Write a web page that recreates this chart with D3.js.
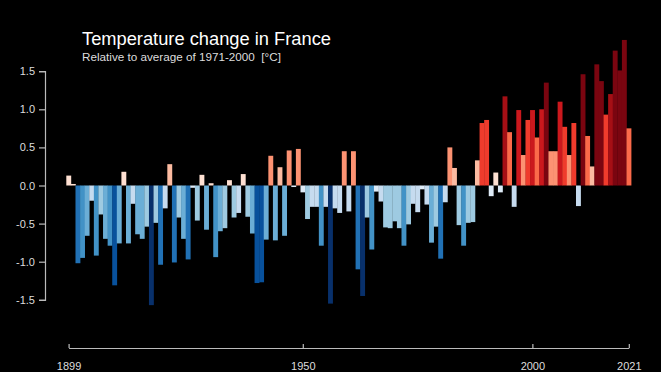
<!DOCTYPE html>
<html><head><meta charset="utf-8">
<script src="https://cdn.jsdelivr.net/npm/d3@7"></script>
<style>
html,body{margin:0;padding:0;background:#000;}
svg{display:block;font-family:"Liberation Sans",Arial,Helvetica,sans-serif;}
</style></head>
<body>
<svg id="chart" width="661" height="372"></svg>
<script>
const title = "Temperature change in France";
const subtitle = "Relative to average of 1971-2000  [°C]";
const firstYear = 1899;
const anomalies = [
 0.13, 0.02,-1.02,-0.95,-0.66,-0.20,-0.92,-0.38,-0.70,-0.79, // 1899-1908
-1.31,-0.76, 0.18,-0.76,-0.24,-0.64,-0.70,-0.54,-1.57,-0.49, // 1909-1918
-1.04,-0.30, 0.28,-1.01,-0.42,-0.70,-0.97,-0.03,-0.46, 0.14, // 1919-1928
-0.58, 0.03,-0.94,-0.60,-0.56, 0.07,-0.42,-0.36, 0.15,-0.41, // 1929-1938
-0.63,-1.28,-1.27,-0.71, 0.39,-0.72, 0.24,-0.66, 0.46,-0.02, // 1939-1948
 0.48,-0.09,-0.44,-0.28,-0.28,-0.79,-0.28,-1.55,-0.30,-0.36, // 1949-1958
 0.45,-0.34, 0.45,-1.10,-1.45,-0.42,-0.84,-0.08,-0.21,-0.55, // 1959-1968
-0.56,-0.47,-0.56,-0.79,-0.51,-0.24,-0.35,-0.05,-0.25,-0.75, // 1969-1978
-0.54,-0.96,-0.22, 0.50, 0.23,-0.52,-0.79,-0.49,-0.48, 0.33, // 1979-1988
 0.82, 0.86,-0.14, 0.17,-0.09, 1.17, 0.70,-0.28, 0.99, 0.40, // 1989-1998
 0.86, 0.99, 0.63, 1.00, 1.35, 0.45, 0.45, 1.10, 0.77, 0.40, // 1999-2008
 0.82,-0.27, 1.46, 0.65, 0.25, 1.59, 1.37, 0.93, 1.20, 1.77, // 2009-2018
 1.51, 1.91, 0.75                                             // 2019-2021
];
const years = anomalies.map((_, i) => firstYear + i);
const xTickValues = [1899, 1950, 2000, 2021];
const yTickValues = [1.5, 1.0, 0.5, 0.0, -0.5, -1.0, -1.5];
const yTickLabels = ["1.5", "1.0", "0.5", "0.0", "-0.5", "-1.0", "-1.5"];

const stripeColors = ["#08306b","#08519c","#2171b5","#4292c6","#6baed6","#9ecae1","#c6dbef","#deebf7",
                      "#fee0d2","#fcbba1","#fc9272","#fb6a4a","#ef3b2c","#cb181d","#a50f15","#7a0510"];

const svg = d3.select("#chart");
svg.append("rect").attr("width", 661).attr("height", 372).attr("fill", "#000");

const x = d3.scaleLinear().domain([1899, 2021]).range([68.6, 628.8]);
const y = d3.scaleLinear().domain([-1.5, 1.5]).range([299.8, 71.2]);
const color = d3.scaleQuantize().domain([-1.52, 1.52]).range(stripeColors);
const bw = x(1) - x(0);

svg.append("g").selectAll("rect").data(years).join("rect")
  .attr("x", d => x(d) - bw / 2)
  .attr("width", bw + 0.3)
  .attr("y", (d, i) => y(Math.max(0, anomalies[i])))
  .attr("height", (d, i) => Math.abs(y(anomalies[i]) - y(0)))
  .attr("fill", (d, i) => color(anomalies[i]));

// Y axis
const yAxis = svg.append("g").attr("transform", "translate(45,0)")
  .call(d3.axisLeft(y).tickValues(yTickValues).tickSize(6).tickPadding(4)
    .tickFormat((d, i) => yTickLabels[i]));
yAxis.select(".domain").attr("stroke", "#bbb").attr("stroke-width", 1.2);
yAxis.selectAll(".tick line").attr("stroke", "#bbb").attr("stroke-width", 1.2);
yAxis.selectAll(".tick text").attr("fill", "#ddd").style("font-size", "11px")
  .style("font-family", '"Liberation Sans",Arial,sans-serif');

// X axis
const xAxis = svg.append("g").attr("transform", "translate(0,348)")
  .call(d3.axisBottom(x).tickValues(xTickValues).tickSize(-4).tickSizeOuter(0).tickPadding(14)
    .tickFormat(d3.format("d")));
xAxis.select(".domain").attr("stroke", "#bbb").attr("stroke-width", 1.2);
xAxis.selectAll(".tick line").attr("stroke", "#bbb").attr("stroke-width", 1.2);
xAxis.selectAll(".tick text").attr("fill", "#ddd").style("font-size", "11px")
  .style("font-family", '"Liberation Sans",Arial,sans-serif');

// Titles
svg.append("text").attr("x", 82).attr("y", 45).attr("fill", "#fff")
  .style("font-size", "18.3px").text(title);
svg.append("text").attr("x", 82).attr("y", 61).attr("fill", "#ddd")
  .style("font-size", "11.7px").style("white-space", "pre").text(subtitle);
</script>
</body></html>
